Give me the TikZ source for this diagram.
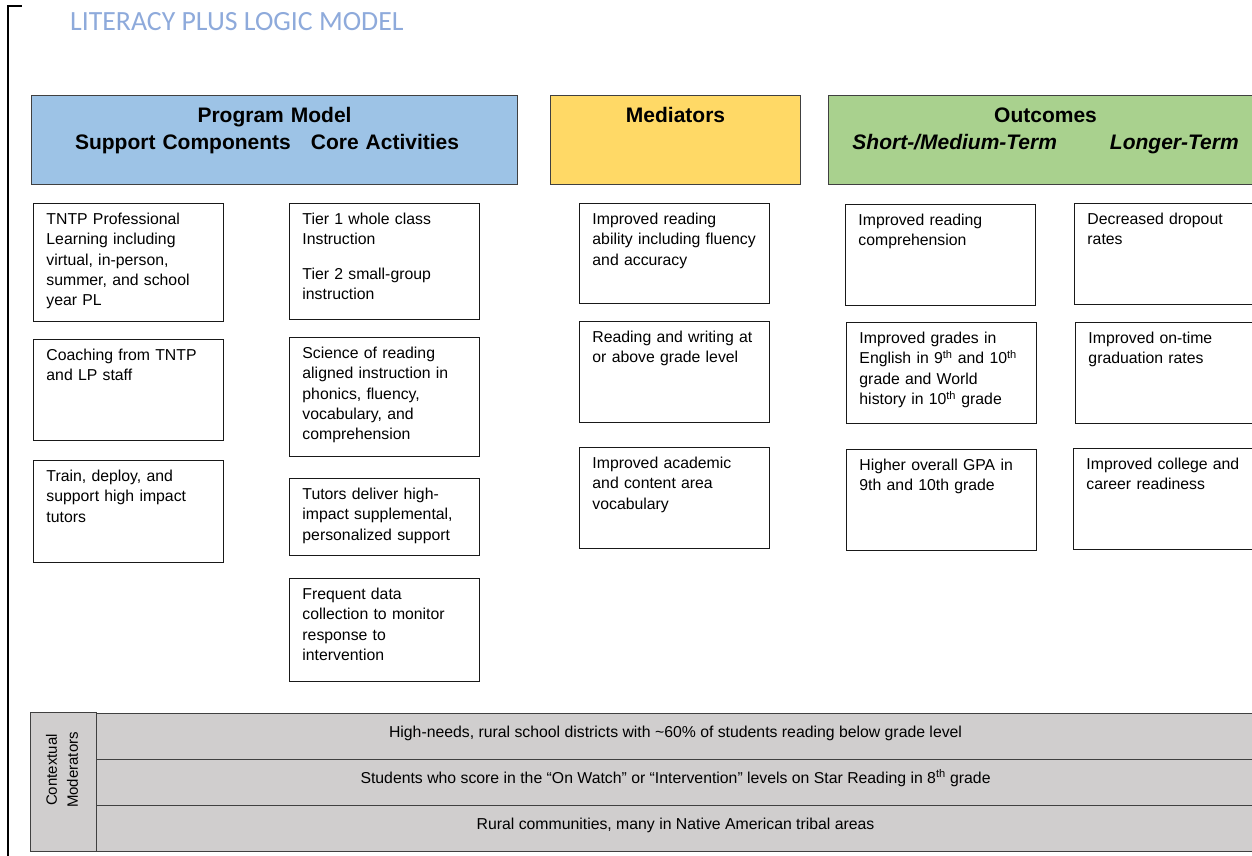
\documentclass[tikz,border=0pt]{standalone}
\usepackage{fontspec}
\setmainfont{Liberation Sans}
\newfontfamily\titlefont{Carlito}
\usepackage{tikz}

\definecolor{titleblue}{RGB}{142,170,219}
\definecolor{pmblue}{RGB}{157,195,230}
\definecolor{medyellow}{RGB}{255,217,102}
\definecolor{outgreen}{RGB}{169,209,142}
\definecolor{ctxgray}{RGB}{208,206,206}
\definecolor{rulegray}{RGB}{64,64,64}

\newcommand{\bodysize}{\fontsize{15.8}{20.3}\selectfont}
\newcommand{\headsize}{\fontsize{21}{27}\selectfont\bfseries}

\tikzset{
  cell/.style={draw=black!90, line width=0.9pt, anchor=north west, align=left,
    font=\bodysize, text width=164pt, inner xsep=13pt, inner ysep=0pt,
    text height=21pt, text depth=#1},
  head/.style={draw=rulegray, line width=1.1pt, anchor=north west, align=center,
    font=\headsize, text width=#1, inner xsep=0pt, inner ysep=0pt,
    text height=27pt, text depth=62pt},
  ctxrow/.style={draw=rulegray, line width=1.1pt, fill=ctxgray, anchor=north west,
    font=\bodysize, minimum width=1158pt, inner sep=0pt,
    text height=23.5pt, text depth=22.5pt}
}

\begin{document}
\begin{tikzpicture}[x=1pt,y=-1pt]
  \useasboundingbox (0,0) rectangle (1252,856);
  \clip (0,0) rectangle (1252,856);

  % page edge
  \draw[line width=2pt] (8,6) -- (8,860);
  \draw[line width=1.2pt] (7,6) -- (22,6);

  \node[font=\titlefont\fontsize{27.8}{33}\selectfont, text=titleblue,
    anchor=base west, inner sep=0pt] (title) at (70,31) {LITERACY PLUS LOGIC MODEL};

  % Headers
  \node[head=486pt, fill=pmblue] (PM) at (31,95)
    {Program Model\\\hspace*{-15pt}Support Components\hspace{20pt}Core Activities};
  \node[head=250pt, fill=medyellow] (MED) at (550,95) {Mediators};
  \node[head=434pt, fill=outgreen] (OUT) at (828,95)
    {Outcomes\\\textit{Short-/Medium-Term}\hspace{53pt}\textit{Longer-Term}};

  % Support components
  \node[cell=97pt] (S1) at (33,203) {TNTP Professional\\Learning including\\
    virtual, in-person,\\summer, and school\\year PL};
  \node[cell=80pt] (S2) at (33,339) {Coaching from TNTP\\and LP staff};
  \node[cell=81pt] (S3) at (33,460) {Train, deploy, and\\support high impact\\tutors};

  % Core activities
  \node[cell=95pt] (C1) at (289,203) {Tier 1 whole class\\Instruction\\[14pt]
    Tier 2 small-group\\instruction};
  \node[cell=98pt] (C2) at (289,337) {Science of reading\\aligned instruction in\\
    phonics, fluency,\\vocabulary, and\\comprehension};
  \node[cell=56pt] (C3) at (289,478) {Tutors deliver high-\\impact supplemental,\\
    personalized support};
  \node[cell=82pt] (C4) at (289,578) {Frequent data\\collection to monitor\\
    response to\\intervention};

  % Mediators
  \node[cell=79pt] (M1) at (579,203) {Improved reading\\ability including fluency\\
    and accuracy};
  \node[cell=80pt] (M2) at (579,321) {Reading and writing at\\or above grade level};
  \node[cell=80pt] (M3) at (579,447) {Improved academic\\and content area\\vocabulary};

  % Outcomes
  \node[cell=80pt] (O1) at (845,204) {Improved reading\\comprehension};
  \node[cell=80pt] (O2) at (846,322) {Improved grades in\\
    English in 9\textsuperscript{th} and 10\textsuperscript{th}\\grade and World\\
    history in 10\textsuperscript{th} grade};
  \node[cell=80pt] (O3) at (846,449) {Higher overall GPA in\\9th and 10th grade};
  \node[cell=80pt] (L1) at (1074,203) {Decreased dropout\\rates};
  \node[cell=80pt] (L2) at (1075,322) {Improved on-time\\graduation rates};
  \node[cell=80pt] (L3) at (1073,448) {Improved college and\\career readiness};

  % Contextual moderators
  \node[ctxrow] (R1) at (96,713)
    {High-needs, rural school districts with \textasciitilde60\% of students reading below grade level};
  \node[ctxrow] (R2) at (96,759)
    {Students who score in the “On Watch” or “Intervention” levels on Star Reading in 8\textsuperscript{th} grade};
  \node[ctxrow] (R3) at (96,805) {Rural communities, many in Native American tribal areas};
  \node[draw=rulegray, line width=1.1pt, fill=ctxgray, anchor=north west,
    minimum width=66pt, minimum height=139pt, inner sep=0pt] (CM) at (30,712) {};
  \node[rotate=90, align=center, font=\fontsize{15}{21}\selectfont] (CMlabel) at (62,770)
    {Contextual\\Moderators};
\end{tikzpicture}
\end{document}
